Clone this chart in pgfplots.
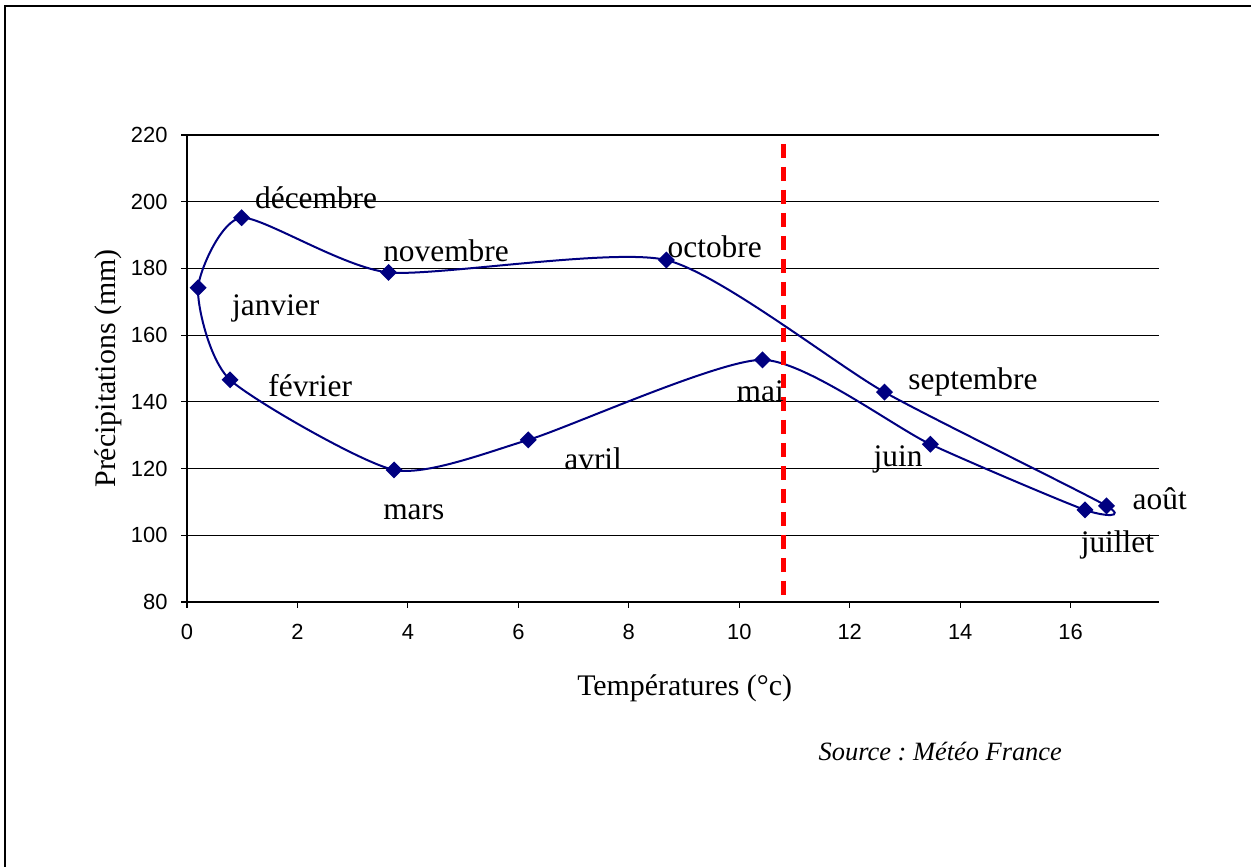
\documentclass[border=0pt]{standalone}
\usepackage{fontspec}
\setmainfont{Liberation Serif}
\newfontfamily\arial{Liberation Sans}
\usepackage{pgfplots}
\pgfplotsset{compat=1.18}
\definecolor{navy}{RGB}{0,0,128}
\definecolor{dashred}{RGB}{255,0,0}
\begin{document}
\frenchspacing
\begin{tikzpicture}
\useasboundingbox (0,0) rectangle (1251bp,867bp);
\draw[line width=2bp] (5bp,0) -- (5bp,861bp) -- (1251bp,861bp);
\begin{axis}[
 at={(187bp,265bp)}, anchor=south west,
 scale only axis, width=972bp, height=467bp,
 xmin=0, xmax=17.6, ymin=80, ymax=220,
 xtick={0,2,...,16}, ytick={80,100,...,220},
 axis x line*=bottom, axis y line*=left,
 axis line style={line width=1.1bp, black},
 ymajorgrids, grid style={line width=1.1bp, black},
 tick align=outside, major tick length=6bp, tick style={line width=1.1bp, black},
 ticklabel style={font=\arial\fontsize{22}{26}\selectfont},
 xticklabel style={yshift=-13bp},
 yticklabel style={xshift=-10bp},
 /pgf/number format/assume math mode=true,
 label style={font=\fontsize{30}{36}\selectfont},
 xlabel={Températures (°c)},
 ylabel={Précipitations (mm)},
 xlabel style={at={(axis description cs:0.512,-0.184)}, anchor=center},
 ylabel style={at={(axis description cs:-0.0813,0.5)}, anchor=center},
 clip=false,
]
\addplot[navy, line width=2bp, smooth cycle, tension=0.38, mark=square*, mark size=5bp,
  mark options={rotate=45, solid}] coordinates {
 (0.20,174.2) (0.78,146.6) (3.75,119.6) (6.18,128.6) (10.42,152.6)
 (13.46,127.3) (16.26,107.6) (16.65,108.8) (12.63,142.9) (8.68,182.5)
 (3.65,178.8) (0.99,195.2)
};
\addplot[dashred, line width=4.5bp, dash pattern=on 14bp off 9bp, dash phase=14bp]
 coordinates {(10.8,220) (10.8,80)};
\begin{scope}[every node/.style={anchor=base west, inner sep=0pt, font=\fontsize{31.5}{38}\selectfont}]
\node at (axis cs:1.23,198.1) {décembre};
\node at (axis cs:0.815,166.0) {janvier};
\node at (axis cs:1.47,141.5) {février};
\node at (axis cs:3.55,182.2) {novembre};
\node at (axis cs:8.70,183.4) {octobre};
\node at (axis cs:9.95,140.0) {mai};
\node at (axis cs:6.83,119.6) {avril};
\node at (axis cs:3.55,104.6) {mars};
\node at (axis cs:13.06,143.6) {septembre};
\node at (axis cs:12.43,120.5) {juin};
\node at (axis cs:16.18,94.7) {juillet};
\node at (axis cs:17.12,107.6) {août};
\end{scope}
\node[font=\itshape\fontsize{26.5}{32}\selectfont] at (axis description cs:0.775,-0.321) {Source : Météo France};
\end{axis}
\end{tikzpicture}
\end{document}
